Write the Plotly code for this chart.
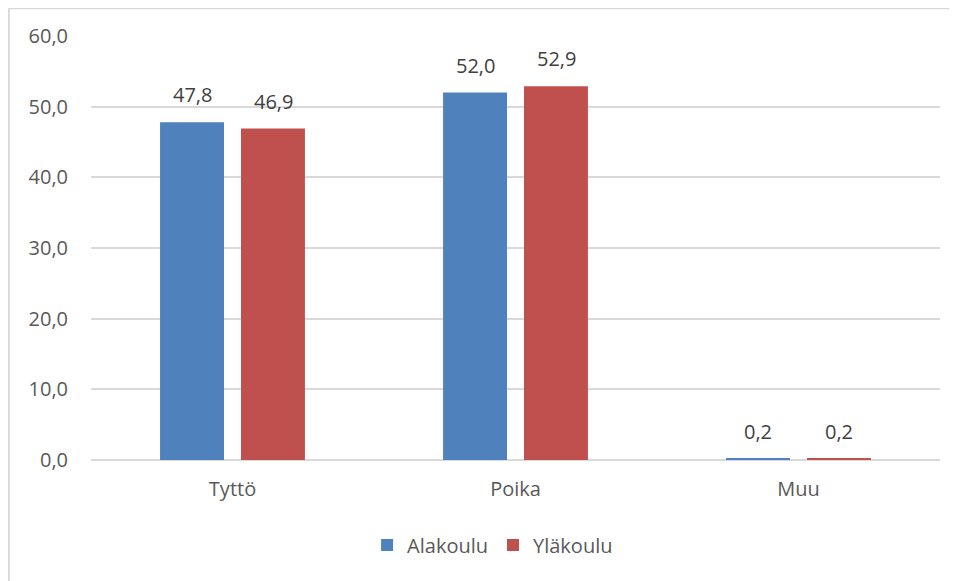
import plotly.graph_objects as go

categories = ["Tyttö", "Poika", "Muu"]
alakoulu = [47.8, 52.0, 0.2]
ylakoulu = [46.9, 52.9, 0.2]
series_names = ["Alakoulu", "Yläkoulu"]
y_ticks = [0, 10, 20, 30, 40, 50, 60]

# the page body adds an 8px margin, so the figure is placed at (8, 8)
W, H = 949, 573
L, R, T, B = 83, 932, 28, 452

fig = go.Figure()
colors = ["#4f81bd", "#c0504d"]
for name, vals, col in [(series_names[0], alakoulu, colors[0]), (series_names[1], ylakoulu, colors[1])]:
    fig.add_trace(go.Bar(
        x=categories, y=vals, name=name, marker=dict(color=col, line=dict(width=0)),
    ))

slot_px = 81
for vals, shift in [(alakoulu, -slot_px / 2), (ylakoulu, slot_px / 2)]:
    for c, v in zip(categories, vals):
        fig.add_annotation(x=c, y=v, xref="x", yref="y", text=f"{v:.1f}".replace(".", ","),
                           showarrow=False, xshift=shift, yshift=12, yanchor="bottom",
                           font=dict(family="Open Sans", size=20, color="#404040"))

def px_x(p):
    return (p - L) / (R - L)

def px_y(p):
    return (B - p) / (B - T)

xl, yt = px_x(0.8), px_y(0.3)
fig.add_shape(type="line", xref="paper", yref="paper", x0=xl, x1=xl, y0=-2, y1=yt,
              line=dict(color="#d9d9d9", width=2))
fig.add_shape(type="line", xref="paper", yref="paper", x0=xl, x1=3, y0=yt, y1=yt,
              line=dict(color="#d9d9d9", width=2))

fig.update_layout(
    width=W, height=H,
    margin=dict(l=L, r=W - R, t=T, b=H - B, pad=0),
    paper_bgcolor="white", plot_bgcolor="white",
    separators=", ",
    barmode="group", bargap=0.428, bargroupgap=0.21,
    font=dict(family="Open Sans", color="#595959", size=20),
    xaxis=dict(showgrid=False, showline=False, ticks="", ticklabelstandoff=15,
               tickfont=dict(size=20, color="#595959")),
    yaxis=dict(range=[0, 60], tickvals=y_ticks, tickformat=".1f", showgrid=True,
               gridcolor="#d9d9d9", gridwidth=1.5, zeroline=True, zerolinecolor="#d9d9d9",
               zerolinewidth=1.5, showline=False, ticks="", ticklabelstandoff=22,
               tickfont=dict(size=20, color="#595959")),
    legend=dict(orientation="h", x=0.473, xanchor="center", y=px_y(537), yanchor="middle",
                font=dict(size=20, color="#595959"), itemwidth=30, traceorder="normal"),
    showlegend=True,
)

fig.write_html("out.html")
